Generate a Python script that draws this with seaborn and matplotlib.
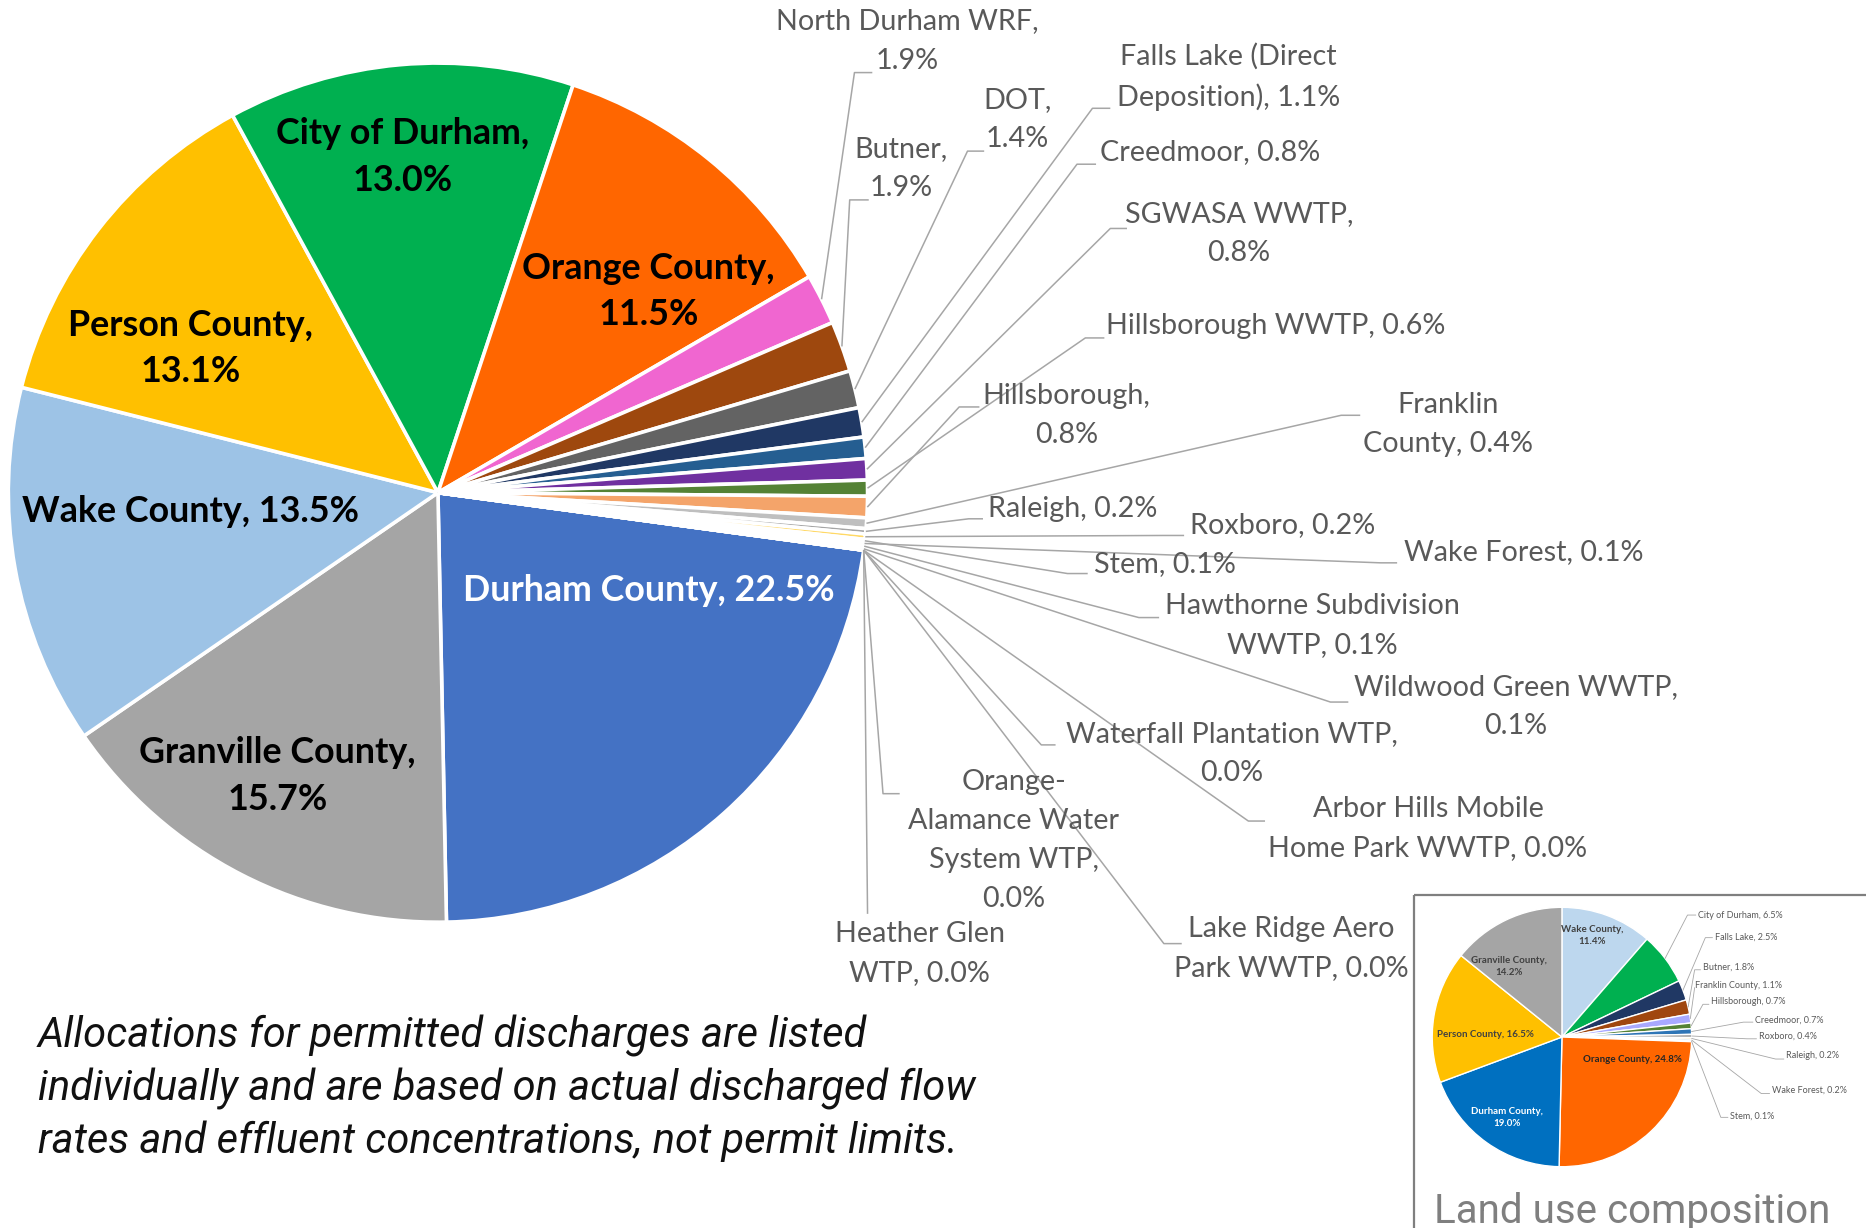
import numpy as np
import matplotlib
matplotlib.use("Agg")
import matplotlib.pyplot as plt
from matplotlib.patches import Rectangle
import seaborn as sns

sns.set_theme(style="white")
plt.rcParams['font.family'] = ['Lato', 'DejaVu Sans']

# ---------------- data: main pie (clockwise from Durham County) ----------------
main_cats = ["Durham County", "Granville County", "Wake County", "Person County",
             "City of Durham", "Orange County", "North Durham WRF", "Butner", "DOT",
             "Falls Lake (Direct Deposition)", "Creedmoor", "SGWASA WWTP",
             "Hillsborough WWTP", "Hillsborough", "Franklin County", "Raleigh",
             "Roxboro", "Stem", "Wake Forest", "Hawthorne Subdivision WWTP",
             "Wildwood Green WWTP", "Waterfall Plantation WTP",
             "Arbor Hills Mobile Home Park WWTP", "Orange-Alamance Water System WTP",
             "Lake Ridge Aero Park WWTP", "Heather Glen WTP"]
main_vals = [22.5, 15.7, 13.5, 13.1, 13.0, 11.5, 1.9, 1.9, 1.4, 1.1, 0.8, 0.8,
             0.6, 0.8, 0.4, 0.2, 0.2, 0.1, 0.1, 0.1, 0.1, 0.0, 0.0, 0.0, 0.0, 0.0]
main_colors = ["#4472C4", "#A5A5A5", "#9DC3E6", "#FFC000", "#00B050", "#FF6600",
               "#F066D0", "#9E480E", "#636363", "#203864", "#255E91", "#7030A0",
               "#548235", "#F4A46A", "#BFBFBF", "#A5A5A5", "#FFD966", "#7CAFDD",
               "#8CC168", "#D9D9D9", "#C9C9C9", "#B4C7E7", "#F8CBAD", "#DBDBDB",
               "#FFE699", "#C5E0B4"]

# wrapped label texts ({} = value)
main_label_fmt = ["Durham County, {}", "Granville County,\n{}", "Wake County, {}",
                  "Person County,\n{}", "City of Durham,\n{}", "Orange County,\n{}",
                  "North Durham WRF,\n{}", "Butner,\n{}", "DOT,\n{}",
                  "Falls Lake (Direct\nDeposition), {}", "Creedmoor, {}",
                  "SGWASA WWTP,\n{}", "Hillsborough WWTP, {}", "Hillsborough,\n{}",
                  "Franklin\nCounty, {}", "Raleigh, {}", "Roxboro, {}", "Stem, {}",
                  "Wake Forest, {}", "Hawthorne Subdivision\nWWTP, {}",
                  "Wildwood Green WWTP,\n{}", "Waterfall Plantation WTP,\n{}",
                  "Arbor Hills Mobile\nHome Park WWTP, {}",
                  "Orange-\nAlamance Water\nSystem WTP,\n{}",
                  "Lake Ridge Aero\nPark WWTP, {}", "Heather Glen\nWTP, {}"]

# ---------------- data: inset pie (clockwise from top) ----------------
inset_cats = ["Wake County", "City of Durham", "Falls Lake", "Butner", "Franklin County",
              "Hillsborough", "Creedmoor", "Roxboro", "Raleigh", "Wake Forest", "Stem",
              "Orange County", "Durham County", "Person County", "Granville County"]
inset_vals = [11.4, 6.5, 2.5, 1.8, 1.1, 0.7, 0.7, 0.4, 0.2, 0.2, 0.1,
              24.8, 19.0, 16.5, 14.2]
inset_colors = ["#BDD7EE", "#00B050", "#203864", "#A0470F", "#A9A9FF", "#548235",
                "#2E75B6", "#A5A5A5", "#FFC000", "#5B9BD5", "#70AD47",
                "#FF6600", "#0070C0", "#FFC000", "#A5A5A5"]
inset_label_fmt = ["Wake County,\n{}", "City of Durham, {}", "Falls Lake, {}", "Butner, {}",
                   "Franklin County, {}", "Hillsborough, {}", "Creedmoor, {}",
                   "Roxboro, {}", "Raleigh, {}", "Wake Forest, {}", "Stem, {}",
                   "Orange County, {}", "Durham County,\n{}", "Person County, {}",
                   "Granville County,\n{}"]

note_text = ("Allocations for permitted discharges are listed\n"
             "individually and are based on actual discharged flow\n"
             "rates and effluent concentrations, not permit limits.")
inset_title = "Land use composition"

# ---------------- layout (reference pixel space, y downwards) ----------------
W, H = 1568, 1032
C_MAIN, R_MAIN = (368, 414), 361
C_IN, R_IN = (1312.5, 871.5), 109

# inside label centres for the six large slices
inside_pos = {0: (545, 496), 1: (233, 652), 2: (160, 430), 3: (160, 293),
              4: (338, 132), 5: (545, 245)}
# outside label layout: text centre, elbow point, end of horizontal stub
outside_layout = {
    6: ((762, 34.5), (718, 61), (733, 61)),
    7: ((757, 141.5), (714, 168), (730, 168)),
    8: ((855, 100.5), (813, 127), (827, 127)),
    9: ((1032, 64.5), (918, 91), (933, 91)),
    10: ((1017, 128), (905, 138), (921, 138)),
    11: ((1041, 196.5), (933, 192), (947, 192)),
    12: ((1072, 274), (912, 284), (928, 284)),
    13: ((896, 349.5), (806, 342), (823, 342)),
    14: ((1217, 356.5), (1127, 349), (1143, 349)),
    15: ((901, 428), (814, 436), (826, 436)),
    16: ((1078, 441), (978, 450), (995, 450)),
    17: ((979, 474), (897, 482), (914, 482)),
    18: ((1280, 464), (1160, 473), (1174, 473)),
    19: ((1103, 525.5), (957, 519), (974, 519)),
    20: ((1274, 593.5), (1118, 590), (1133, 590)),
    21: ((1035, 633.5), (875, 626), (887, 626)),
    22: ((1200, 696.5), (1049, 690), (1063, 690)),
    23: ((852, 706.5), (742, 667), (756, 667)),
    24: ((1085, 797.5), (978, 793), (993, 793)),
    25: ((773, 801.5), (729, 768), (729, 768)),
}
inset_inside = {0: ((1338, 786), "#404040"), 14: ((1268, 812), "#404040"),
                13: ((1248, 869), "#404040"), 11: ((1372, 890), "#262626"),
                12: ((1266, 939), "white")}
inset_outside = {
    1: ((1427, 769), (1418, 769), (1425, 769)),
    2: ((1441, 788), (1433, 788), (1439, 788)),
    3: ((1431, 813), (1424, 815), (1429, 815)),
    4: ((1424, 828), (1424, 830), (1424, 830)),
    5: ((1438, 842), (1431, 844), (1436, 844)),
    6: ((1475, 857), (1465, 859), (1473, 859)),
    7: ((1478, 871), (1468, 873), (1476, 873)),
    8: ((1501, 887), (1492, 890), (1499, 890)),
    9: ((1489, 916), (1480, 919), (1487, 919)),
    10: ((1454, 938), (1446, 939), (1452, 939)),
}

fig = plt.figure(figsize=(18.66, 12.28), dpi=100)
ax = fig.add_axes([0, 0, 1, 1])

# y axis inverted -> counterclock=True draws visually clockwise
start_main = 7.7
wedges, _ = ax.pie(main_vals, colors=main_colors, startangle=start_main,
                   counterclock=True, center=C_MAIN, radius=R_MAIN,
                   wedgeprops=dict(edgecolor="white", linewidth=2.6))
wedges_in, _ = ax.pie(inset_vals, colors=inset_colors, startangle=-90,
                      counterclock=True, center=C_IN, radius=R_IN,
                      wedgeprops=dict(edgecolor="white", linewidth=1.0))
ax.set_xlim(0, W)
ax.set_ylim(H, 0)
ax.set_aspect("equal", adjustable="datalim")
ax.axis("off")


def edge_point(w, center, r):
    th = np.deg2rad((w.theta1 + w.theta2) / 2)
    return center[0] + r * np.cos(th), center[1] + r * np.sin(th)


label_color = "#595959"
line_color = "#A6A6A6"

for i, (fmt, v) in enumerate(zip(main_label_fmt, main_vals)):
    txt = fmt.format(f"{v:.1f}%")
    if i in inside_pos:
        x, y = inside_pos[i]
        ax.text(x, y, txt, ha="center", va="center", fontsize=25.8, fontweight="bold",
                color="white" if i == 0 else "black", linespacing=1.5)
    else:
        (tx, ty), (ex, ey), (hx, hy) = outside_layout[i]
        sx, sy = edge_point(wedges[i], C_MAIN, R_MAIN)
        ax.plot([sx, ex, hx], [sy, ey, hy], color=line_color, lw=1.1,
                solid_capstyle="butt", zorder=1)
        ax.text(tx, ty, txt, ha="center", va="center", fontsize=20.7,
                color=label_color, linespacing=1.62)

# inset box
ax.add_patch(Rectangle((1188, 752), 420, 320, fill=False, edgecolor="#7F7F7F",
                       linewidth=1.6, zorder=0))

for i, (fmt, v) in enumerate(zip(inset_label_fmt, inset_vals)):
    txt = fmt.format(f"{v:.1f}%")
    if i in inset_inside:
        (x, y), col = inset_inside[i]
        ax.text(x, y, txt, ha="center", va="center", fontsize=7, fontweight="bold",
                color=col, linespacing=1.45)
    else:
        (tx, ty), (ex, ey), (hx, hy) = inset_outside[i]
        sx, sy = edge_point(wedges_in[i], C_IN, R_IN)
        ax.plot([sx, ex, hx], [sy, ey, hy], color=line_color, lw=0.6, zorder=1)
        ax.text(tx, ty, txt, ha="left", va="center", fontsize=6.5, color=label_color)

ax.text(1205, 1028, inset_title, ha="left", va="baseline", fontsize=29,
        family=["Roboto", "DejaVu Sans"], color="#7F7F7F")

ax.text(32, 915, note_text, ha="left", va="center", fontsize=30, style="italic",
        family=["Roboto", "DejaVu Sans"], color="#111111", linespacing=1.33)

fig.savefig("out.png", dpi=100, facecolor="white")
